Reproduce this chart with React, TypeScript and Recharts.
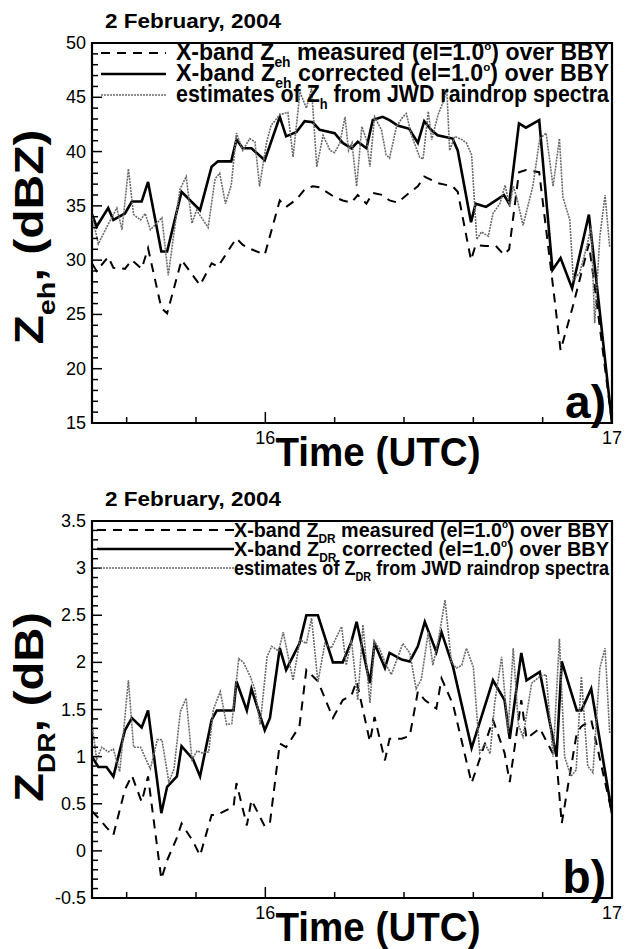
import React from 'react';
import { LineChart, Line, XAxis, YAxis, ReferenceArea, Legend, Label } from 'recharts';

// minutes after 15:30 UTC, 2 February 2004
const zehRadarMin = [0, 0.8, 2.8, 3.7, 5.7, 6.9, 8.6, 9.7, 12.0, 13.0, 15.5, 18.7, 20.7, 21.8, 24.1, 25.0, 26.1, 27.6, 29.9, 32.5, 33.6, 35.4, 36.8, 38.2, 39.4, 42.0, 43.4, 44.9, 46.0, 47.5, 48.6, 50.3, 51.5, 52.9, 54.9, 56.4, 57.5, 58.7, 59.8, 62.4, 63.3, 65.6, 66.4, 68.2, 69.9, 71.3, 72.2, 73.9, 75.1, 77.4, 79.7, 81.1, 83.1, 86.0, 86.9, 90];
const zehMeasured = [29.7, 29.0, 30.3, 29.3, 29.2, 30.0, 29.2, 31.1, 25.6, 25.1, 30.0, 27.7, 29.7, 29.4, 31.3, 32.0, 31.4, 31.0, 30.5, 35.5, 34.9, 35.6, 36.5, 36.8, 36.7, 35.8, 35.5, 35.3, 36.0, 35.2, 36.2, 36.0, 35.5, 35.3, 36.2, 36.8, 37.7, 37.4, 37.1, 36.8, 36.3, 30.0, 31.4, 31.3, 31.3, 30.5, 31.0, 38.1, 38.3, 38.1, 28.0, 21.7, 25.5, 31.5, 28.0, 15.0];
const zehCorrected = [34.2, 33.1, 34.8, 33.7, 34.3, 35.4, 35.4, 37.2, 30.8, 30.8, 36.3, 34.6, 38.6, 39.1, 39.1, 41.1, 40.3, 40.3, 39.2, 43.2, 41.4, 41.8, 42.8, 42.7, 42.0, 41.7, 40.8, 40.3, 40.9, 40.3, 42.9, 43.2, 42.9, 42.4, 42.1, 40.8, 42.8, 42.0, 41.5, 41.2, 40.1, 33.5, 35.2, 34.9, 35.5, 36.0, 35.2, 42.6, 42.2, 42.9, 29.1, 30.2, 27.4, 34.2, 30.0, 15.0];
const zehJwdMin = [0, 1.1, 2.8, 4.3, 5.2, 6.3, 7.2, 8.4, 9.2, 10.1, 12.1, 13.2, 15.2, 16.3, 17.3, 18.1, 20.1, 21.3, 22.1, 23.1, 24.1, 25.0, 26.1, 27.3, 28.2, 29.0, 30.2, 31.0, 32.5, 33.9, 34.8, 36.0, 37.1, 38.0, 38.9, 40.0, 41.2, 42.0, 42.9, 43.8, 44.4, 45.0, 45.8, 46.7, 47.5, 48.1, 48.9, 50.1, 50.9, 51.5, 52.7, 53.8, 54.4, 55.3, 56.7, 57.3, 58.2, 58.8, 59.9, 60.8, 61.4, 61.9, 62.8, 64.0, 64.8, 65.7, 66.6, 67.4, 68.6, 69.4, 70.6, 71.5, 72.3, 72.9, 73.5, 74.6, 76.3, 77.5, 78.6, 79.8, 80.9, 81.5, 82.7, 83.3, 84.4, 85.6, 86.4, 87.0, 87.9, 88.8, 89.6];
const zehJwd = [34.1, 31.5, 33.3, 34.8, 32.8, 38.4, 34.2, 33.7, 34.3, 32.8, 33.9, 28.6, 36.5, 37.7, 33.4, 34.6, 33.0, 37.5, 38.0, 35.2, 36.9, 41.7, 40.1, 41.2, 40.9, 36.8, 40.8, 42.4, 43.4, 43.6, 39.5, 45.5, 44.0, 45.8, 38.6, 41.5, 40.1, 39.9, 40.8, 43.2, 40.1, 40.8, 36.8, 42.3, 41.1, 38.6, 43.2, 42.0, 39.7, 39.4, 42.3, 43.2, 43.5, 41.5, 39.5, 39.3, 43.7, 41.1, 43.4, 44.6, 45.8, 40.1, 41.4, 41.1, 40.8, 39.7, 31.9, 32.6, 32.2, 34.3, 35.2, 36.9, 34.9, 36.8, 35.8, 33.2, 36.8, 41.2, 41.7, 36.8, 41.2, 35.8, 33.7, 28.2, 28.8, 31.2, 33.1, 24.2, 32.2, 36.0, 31.2];

const zdrRadarMin = [0, 1.1, 2.5, 3.7, 5.7, 6.9, 8.6, 9.7, 12.0, 13.0, 14.7, 15.5, 17.5, 18.7, 20.7, 21.6, 24.5, 25.0, 26.8, 27.6, 29.9, 30.8, 32.5, 33.6, 35.9, 37.1, 39.1, 41.7, 43.4, 44.9, 45.8, 48.1, 48.9, 50.7, 51.5, 53.6, 55.0, 56.4, 57.6, 59.6, 60.5, 62.5, 65.7, 69.4, 71.4, 72.3, 74.3, 75.2, 77.5, 80.4, 81.3, 83.9, 84.7, 86.4, 90];
const zdrMeasured = [0.42, 0.35, 0.25, 0.17, 0.65, 0.8, 0.52, 0.79, -0.3, -0.1, 0.14, 0.29, 0.1, -0.05, 0.38, 0.38, 0.47, 0.72, 0.27, 0.54, 0.26, 0.3, 1.14, 1.1, 1.32, 1.92, 1.8, 1.41, 1.6, 1.65, 1.8, 1.16, 1.42, 0.96, 1.19, 1.19, 1.22, 1.69, 1.6, 1.51, 1.83, 1.55, 0.72, 1.39, 1.04, 0.73, 1.6, 1.19, 1.3, 0.96, 0.29, 1.25, 1.32, 1.39, 0.4];
const zdrCorrected = [1.0, 0.89, 0.89, 0.79, 1.28, 1.41, 1.31, 1.49, 0.4, 0.68, 0.79, 1.11, 0.97, 0.79, 1.39, 1.49, 1.49, 1.8, 1.49, 1.72, 1.28, 1.41, 2.15, 1.92, 2.2, 2.5, 2.5, 2.0, 2.0, 2.22, 2.43, 1.78, 2.2, 1.94, 2.1, 2.03, 2.01, 2.17, 2.43, 2.11, 2.32, 1.95, 1.09, 1.81, 1.6, 1.19, 2.1, 1.81, 1.9, 1.0, 2.01, 1.49, 1.49, 1.72, 0.4];
const zdrJwdMin = [0, 0.8, 1.7, 2.8, 3.7, 4.8, 6.3, 7.2, 8.4, 10.1, 11.3, 12.1, 13.3, 14.2, 15.3, 16.3, 17.3, 18.2, 19.0, 20.2, 21.0, 22.2, 23.3, 24.2, 25.4, 26.2, 27.4, 28.2, 29.1, 30.3, 31.1, 32.3, 33.1, 34.8, 36.0, 37.1, 38.0, 39.1, 40.3, 41.4, 43.2, 44.0, 44.9, 46.0, 46.9, 48.1, 48.9, 49.8, 50.7, 51.8, 53.8, 55.0, 56.1, 57.0, 58.2, 59.0, 59.9, 61.1, 62.2, 63.1, 64.0, 64.8, 66.0, 67.1, 68.0, 68.9, 69.7, 70.9, 72.0, 72.9, 73.8, 74.6, 76.1, 77.5, 78.6, 79.8, 80.9, 81.8, 82.9, 83.8, 84.7, 85.8, 86.7, 87.9, 88.8, 89.6];
const zdrJwd = [1.35, 0.97, 1.1, 1.05, 1.08, 0.84, 1.81, 1.1, 1.1, 0.87, 1.18, 1.18, 0.73, 0.87, 1.48, 1.62, 0.97, 1.06, 1.04, 1.05, 1.5, 1.69, 1.34, 1.35, 2.04, 2.0, 1.85, 1.71, 1.34, 2.06, 2.17, 2.12, 2.32, 1.81, 2.24, 2.2, 2.47, 1.79, 2.2, 2.15, 2.38, 1.97, 2.24, 1.6, 2.4, 1.57, 2.22, 2.14, 2.0, 1.87, 2.2, 2.1, 1.72, 1.82, 2.32, 1.97, 2.22, 2.66, 2.0, 1.94, 1.97, 2.15, 1.95, 1.04, 1.14, 1.03, 1.57, 2.06, 1.25, 2.15, 1.34, 1.21, 1.78, 1.85, 1.87, 1.0, 2.25, 1.0, 0.79, 0.86, 1.85, 0.9, 0.83, 1.94, 2.15, 1.25];

const timeLabels = [16, 17];
const timeTicks = [15.6, 15.8, 16, 16.2, 16.4, 16.6, 16.8, 17];
const zehLabels = [15, 20, 25, 30, 35, 40, 45, 50];
const zdrLabels = [-0.5, 0, 0.5, 1, 1.5, 2, 2.5, 3, 3.5];
const zehTicks = Array.from({ length: 36 }, (_, i) => 15 + i);
const zdrTicks = Array.from({ length: 41 }, (_, i) => Math.round((-0.5 + i * 0.1) * 10) / 10);

const FONT = '"Liberation Sans", Arial, Helvetica, sans-serif';
const toRows = (mins: number[], vals: number[]) => mins.map((m, i) => ({ t: 15.5 + m / 60, v: vals[i] }));

// text runs: [text, 0 normal | 1 subscript | 2 superscript]
const rich = (parts: [string, number][], size: number) => {
  let shift = 0;
  return parts.map(([s, kind], i) => {
    const target = kind === 1 ? size * 0.3 : kind === 2 ? -size * 0.42 : 0;
    const dy = target - shift;
    shift = target;
    const fs = kind === 1 ? size * 0.6 : kind === 2 ? size * 0.5 : undefined;
    return (
      <tspan key={i} dy={dy || undefined} fontSize={fs}>
        {s}
      </tspan>
    );
  });
};

const XTick = (props: any) => {
  const { x, y, payload } = props;
  const major = timeLabels.includes(payload.value);
  return (
    <g>
      <line x1={x} x2={x} y1={y} y2={y - (major ? 11 : 6)} stroke="#000" strokeWidth={1.5} />
      {major && (
        <text x={x} y={y + 21} textAnchor="middle" fontSize={18} fontFamily={FONT} fill="#000">
          {payload.value}
        </text>
      )}
    </g>
  );
};

const makeYTick = (labels: number[]) => (props: any) => {
  const { x, y, payload } = props;
  const major = labels.includes(payload.value);
  return (
    <g>
      <line x1={x} x2={x + (major ? 10 : 6)} y1={y} y2={y} stroke="#000" strokeWidth={1.5} />
      {major && (
        <text x={x - 6} y={y + 6} textAnchor="end" fontSize={18} fontFamily={FONT} fill="#000">
          {payload.value}
        </text>
      )}
    </g>
  );
};

type Cfg = {
  top: number;
  height: number;
  marginTop: number;
  xAxisH: number;
  title: string;
  letter: string;
  yDomain: [number, number];
  yTicks: number[];
  yLabels: number[];
  measured: any[];
  corrected: any[];
  jwd: any[];
  sym: string;
  estSym: string;
  legend: { lineX1: number; lineX2: number; textX: number; textW: number; base: number[]; fs: number };
  yLabel: { x: number; y: number; w: number; unit: string };
};

const LEG_PAD = 12;

const Panel = ({ c }: { c: Cfg }) => {
  const plotBottom = c.height - c.xAxisH;
  const L = c.legend;
  const fs = L.fs;
  const rows: { dash?: string; color: string; w: number; parts: [string, number][] }[] = [
    {
      dash: '9 7',
      color: '#000',
      w: 2,
      parts: [['X-band Z', 0], [c.sym, 1], [' measured (el=1.0', 0], ['o', 2], [') over BBY', 0]],
    },
    {
      color: '#000',
      w: 2.4,
      parts: [['X-band Z', 0], [c.sym, 1], [' corrected (el=1.0', 0], ['o', 2], [') over BBY', 0]],
    },
    {
      dash: '2 1',
      color: '#6a6a6a',
      w: 1.6,
      parts: [['estimates of Z', 0], [c.estSym, 1], [' from JWD raindrop spectra', 0]],
    },
  ];
  return (
    <div style={{ position: 'absolute', left: 0, top: c.top, width: 628, height: c.height }}>
      <LineChart width={628} height={c.height} margin={{ top: c.marginTop, right: 16, bottom: 0, left: 0 }}>
        <XAxis
          dataKey="t"
          type="number"
          domain={[15.5, 17]}
          allowDataOverflow
          ticks={timeTicks}
          interval={0}
          tickSize={0}
          tickMargin={0}
          axisLine={false}
          tick={XTick}
          height={c.xAxisH}
        >
          <Label
            content={() => (
              <text x={378} y={plotBottom + 43} textAnchor="middle" fontSize={40} fontWeight="bold" fontFamily={FONT} textLength={205} lengthAdjust="spacingAndGlyphs">
                Time (UTC)
              </text>
            )}
          />
        </XAxis>
        <YAxis
          type="number"
          domain={c.yDomain}
          allowDataOverflow
          ticks={c.yTicks}
          interval={0}
          tickSize={0}
          tickMargin={0}
          axisLine={false}
          tick={makeYTick(c.yLabels)}
          width={92}
        >
          <Label
            content={() => (
              <text
                transform={`translate(${c.yLabel.x},${c.yLabel.y}) rotate(-90)`}
                textAnchor="middle"
                fontSize={40}
                fontWeight="bold"
                fontFamily={FONT}
                textLength={c.yLabel.w}
                lengthAdjust="spacingAndGlyphs"
              >
                {rich([['Z', 0], [c.sym, 1], [`, (${c.yLabel.unit})`, 0]], 40)}
              </text>
            )}
          />
        </YAxis>
        <ReferenceArea x1={15.5} x2={17} y1={c.yDomain[0]} y2={c.yDomain[1]} fill="none" stroke="#000" strokeWidth={2.2} />
        <Line data={c.measured} dataKey="v" name="measured" stroke="#000" strokeWidth={2} strokeDasharray="9 7" dot={false} isAnimationActive={false} />
        <Line data={c.corrected} dataKey="v" name="corrected" stroke="#000" strokeWidth={2.6} dot={false} isAnimationActive={false} />
        <Line data={c.jwd} dataKey="v" name="jwd" stroke="#6a6a6a" strokeWidth={1.6} strokeDasharray="2 1" dot={false} isAnimationActive={false} />
        <Legend
          layout="vertical"
          align="center"
          verticalAlign="middle"
          wrapperStyle={{ top: c.marginTop - LEG_PAD, left: 92, width: 520, height: 90, pointerEvents: 'none' }}
          content={() => (
            <svg width={520} height={90} style={{ display: 'block', overflow: 'visible' }}>
              <g fontFamily={FONT} fontWeight="bold" fontSize={fs} fill="#000">
                {rows.map((r, i) => (
                  <g key={i}>
                    <line
                      x1={L.lineX1}
                      x2={L.lineX2}
                      y1={LEG_PAD + L.base[i] - 7}
                      y2={LEG_PAD + L.base[i] - 7}
                      stroke={r.color}
                      strokeWidth={r.w}
                      strokeDasharray={r.dash}
                    />
                    <text x={L.textX} y={LEG_PAD + L.base[i]} textLength={L.textW} lengthAdjust="spacingAndGlyphs">
                      {rich(r.parts, fs)}
                    </text>
                  </g>
                ))}
              </g>
            </svg>
          )}
        />
      </LineChart>
      <svg width={628} height={c.height} style={{ position: 'absolute', left: 0, top: 0, pointerEvents: 'none' }}>
        <text x={105} y={c.marginTop - 15} fontSize={20} fontWeight="bold" fontFamily={FONT} textLength={176} lengthAdjust="spacingAndGlyphs">
          {c.title}
        </text>
        <text x={606} y={plotBottom - 5} textAnchor="end" fontSize={46} fontWeight="bold" fontFamily={FONT}>
          {c.letter}
        </text>
      </svg>
    </div>
  );
};

const zehCfg: Cfg = {
  top: 0,
  height: 475,
  marginTop: 43,
  xAxisH: 52,
  title: '2 February, 2004',
  letter: 'a)',
  yDomain: [15, 50],
  yTicks: zehTicks,
  yLabels: zehLabels,
  measured: toRows(zehRadarMin, zehMeasured),
  corrected: toRows(zehRadarMin, zehCorrected),
  jwd: toRows(zehJwdMin, zehJwd),
  sym: 'eh',
  estSym: 'h',
  legend: { lineX1: 9, lineX2: 74, textX: 84, textW: 433, base: [17, 38, 59], fs: 23 },
  yLabel: { x: 43, y: 237, w: 215, unit: 'dBZ' },
};

const zdrCfg: Cfg = {
  top: 475,
  height: 474,
  marginTop: 46,
  xAxisH: 51,
  title: '2 February, 2004',
  letter: 'b)',
  yDomain: [-0.5, 3.5],
  yTicks: zdrTicks,
  yLabels: zdrLabels,
  measured: toRows(zdrRadarMin, zdrMeasured),
  corrected: toRows(zdrRadarMin, zdrCorrected),
  jwd: toRows(zdrJwdMin, zdrJwd),
  sym: 'DR',
  estSym: 'DR',
  legend: { lineX1: 5, lineX2: 142, textX: 142, textW: 375, base: [16, 35, 54], fs: 21 },
  yLabel: { x: 43, y: 232, w: 190, unit: 'dB' },
};

export default function App() {
  return (
    <div style={{ position: 'absolute', left: 0, top: 0, width: 628, height: 949, background: '#fff' }}>
      <Panel c={zehCfg} />
      <Panel c={zdrCfg} />
    </div>
  );
}
